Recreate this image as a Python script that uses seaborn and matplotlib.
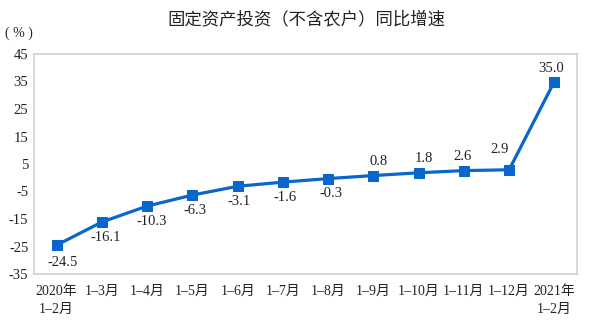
import matplotlib
matplotlib.use("Agg")
import matplotlib.pyplot as plt
import seaborn as sns
import pandas as pd
import numpy as np

periods = ["2020年\n1–2月", "1–3月", "1–4月", "1–5月", "1–6月", "1–7月", "1–8月",
           "1–9月", "1–10月", "1–11月", "1–12月", "2021年\n1–2月"]
growth = [-24.5, -16.1, -10.3, -6.3, -3.1, -1.6, -0.3, 0.8, 1.8, 2.6, 2.9, 35.0]
y_ticks = [45, 35, 25, 15, 5, -5, -15, -25, -35]

# label offsets (pixels) for each point's value text
label_dx = [6, 4, 5, 3, 2, 2, 3, 5, 5, -1, -10, -3]
label_dy = [-17, -15, -15, -15, -15, -15, -15, 14, 14, 14, 20, 13]

sns.set_theme(style="white")
serif = ["Liberation Serif", "Noto Sans CJK SC"]
plt.rcParams["font.family"] = serif

df = pd.DataFrame({"idx": np.arange(len(periods)), "growth": growth})

fig = plt.figure(figsize=(5.92, 3.28), dpi=100)
ax = fig.add_axes([34 / 592, 1 - 274 / 328, 543 / 592, 220 / 328])

line_color = "#0866cc"
sns.lineplot(data=df, x="idx", y="growth", ax=ax, color=line_color, linewidth=2.3,
             marker="s", markersize=7.5, markeredgecolor=line_color,
             markerfacecolor=line_color)

ax.set_xlim(-0.5, len(periods) - 0.5)
ax.set_ylim(-35, 45)
ax.set_yticks(y_ticks)
ax.set_yticklabels([str(v) for v in y_ticks], fontsize=10.5, family=serif, color="#222222")

# category labels centred, ticks on category boundaries
ax.set_xticks(np.arange(len(periods)))
ax.set_xticklabels(periods, fontsize=10, family=serif, color="#222222", linespacing=1.5)
ax.tick_params(axis="x", length=0, pad=8)
ax.set_xticks(np.arange(len(periods) - 1) + 0.5, minor=True)
ax.tick_params(axis="x", which="minor", direction="in", length=4, color="#bbbbbb", width=1)
ax.tick_params(axis="y", direction="in", length=4, color="#bbbbbb", width=1, pad=4)

for sp in ax.spines.values():
    sp.set_color("#cfcfcf")
    sp.set_linewidth(1.2)
    sp.set_visible(True)

ax.set_xlabel("")
ax.set_ylabel("")

for i, v in enumerate(growth):
    ax.annotate(f"{v:.1f}", (i, v), xytext=(label_dx[i], label_dy[i]),
                textcoords="offset pixels", ha="center", va="center",
                fontsize=10.5, family=serif, color="#222222")

fig.text(306 / 592, 1 - 19 / 328, "固定资产投资（不含农户）同比增速", ha="center", va="center",
         fontsize=12.5, family=["Noto Sans CJK SC", "DejaVu Sans"], color="#222222")
fig.text(19 / 592, 1 - 33 / 328, "( % )", ha="center", va="center",
         fontsize=10, family=serif, color="#222222")

fig.savefig("out.png", dpi=100)
